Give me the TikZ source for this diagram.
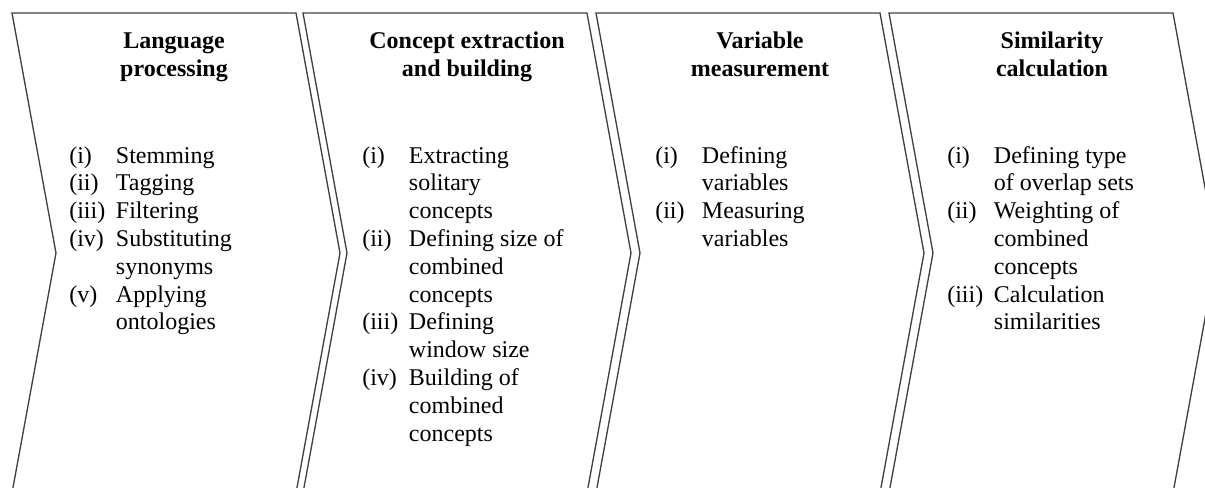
\documentclass[tikz,border=0pt]{standalone}
\usepackage{fontspec}
\setmainfont{Liberation Serif}
\usepackage{tikz}
\usetikzlibrary{positioning}
\newcommand{\itm}[2]{\makebox[35pt][l]{#1}#2}
\newcommand{\cnt}[1]{\hspace*{35pt}#1}

\begin{document}
\begin{tikzpicture}[x=0.75pt,y=-0.75pt,
    chevron/.style={draw=black!75,line width=1pt,line join=miter},
    head node/.style={anchor=base,align=center,inner sep=0pt,font=\fontsize{18}{21}\selectfont\bfseries},
    list node/.style={anchor=base west,align=left,inner sep=0pt,font=\fontsize{18}{20.85}\selectfont}]
  \useasboundingbox (0,0) rectangle (1205,487);
  \clip (0,0) rectangle (1205,487);
  % the four stages
  \draw[chevron] (12,13) -- (296,13) -- (340,253) -- (296,493) -- (12,493) -- (56,253) -- cycle;
  \draw[chevron] (303,13) -- (587,13) -- (631,253) -- (587,493) -- (303,493) -- (347,253) -- cycle;
  \draw[chevron] (596,13) -- (880,13) -- (924,253) -- (880,493) -- (596,493) -- (640,253) -- cycle;
  \draw[chevron] (889,13) -- (1173,13) -- (1217,253) -- (1173,493) -- (889,493) -- (933,253) -- cycle;

  % headings (anchored at the baseline of their last line)
  \node[head node] (lang) at (174,76) {Language\\processing};
  \node[head node] (concept) at (467,76) {Concept extraction\\and building};
  \node[head node] (var) at (760,76) {Variable\\measurement};
  \node[head node] (sim) at (1052,76) {Similarity\\calculation};

  % steps (anchored at the baseline of their last line)
  \node[list node] (langlist) at (69,329.8) {\itm{(i)}{Stemming}\\\itm{(ii)}{Tagging}\\\itm{(iii)}{Filtering}\\
    \itm{(iv)}{Substituting}\\\cnt{synonyms}\\\itm{(v)}{Applying}\\\cnt{ontologies}};
  \node[list node] (conceptlist) at (362,441) {\itm{(i)}{Extracting}\\\cnt{solitary}\\\cnt{concepts}\\
    \itm{(ii)}{Defining size of}\\\cnt{combined}\\\cnt{concepts}\\\itm{(iii)}{Defining}\\\cnt{window size}\\
    \itm{(iv)}{Building of}\\\cnt{combined}\\\cnt{concepts}};
  \node[list node] (varlist) at (655,246.4) {\itm{(i)}{Defining}\\\cnt{variables}\\\itm{(ii)}{Measuring}\\\cnt{variables}};
  \node[list node] (simlist) at (947,329.8) {\itm{(i)}{Defining type}\\\cnt{of overlap sets}\\\itm{(ii)}{Weighting of}\\
    \cnt{combined}\\\cnt{concepts}\\\itm{(iii)}{Calculation}\\\cnt{similarities}};
\end{tikzpicture}
\end{document}
